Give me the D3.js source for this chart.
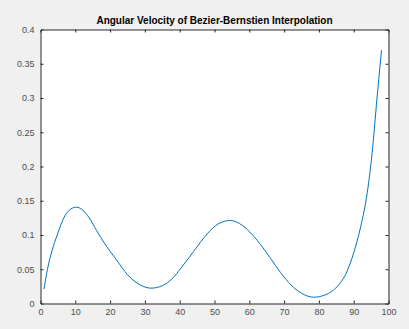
<!DOCTYPE html>
<html><head><meta charset="utf-8">
<script src="https://cdn.jsdelivr.net/npm/d3@7"></script>
<style>
html,body{margin:0;padding:0;background:#f0f0f0;}
svg{display:block;}
text{font-family:"Liberation Sans",Arial,sans-serif;}
</style></head>
<body>
<svg id="c" width="409" height="329"></svg>
<script>
const title = "Angular Velocity of Bezier-Bernstien Interpolation";
const xs = [1, 2, 3.3, 4.8, 7, 8.7, 10.3, 12, 14, 16.1, 18.5, 21.8, 25, 28.7, 31.8, 35, 38, 40.2, 44, 47.9, 51, 54.6, 58, 62.3, 66.1, 69, 72, 75, 78.5, 82, 85.3, 88, 90, 92, 93.9, 95.3, 96.7, 98];
const ys = [0.021, 0.05, 0.077, 0.1, 0.128, 0.138, 0.1406, 0.137, 0.125, 0.1066, 0.087, 0.064, 0.042, 0.027, 0.0224, 0.026, 0.037, 0.0506, 0.076, 0.1017, 0.116, 0.1212, 0.114, 0.092, 0.066, 0.045, 0.027, 0.015, 0.0092, 0.013, 0.025, 0.046, 0.074, 0.112, 0.162, 0.22, 0.30, 0.37];
const xTicks = [0,10,20,30,40,50,60,70,80,90,100];
const yTicks = [0,0.05,0.1,0.15,0.2,0.25,0.3,0.35,0.4];

const L = 40.5, R = 388.5, T = 29.5, B = 303.5;
const svg = d3.select("#c");
const x = d3.scaleLinear().domain([0,100]).range([L,R]);
const y = d3.scaleLinear().domain([0,0.4]).range([B,T]);

svg.append("rect").attr("x",L).attr("y",T).attr("width",R-L).attr("height",B-T).attr("fill","#fff");

const data = xs.map((d,i)=>[d, ys[i]]);
svg.append("path").datum(data)
  .attr("fill","none").attr("stroke","#0072bd").attr("stroke-width",1)
  .attr("d", d3.line().x(d=>x(d[0])).y(d=>y(d[1])).curve(d3.curveMonotoneX));

const axCol = "#262626", lblCol = "#4d4d4d";
const fmt = v => v===0 ? "0" : String(+v.toFixed(2));
const gB = svg.append("g").attr("transform",`translate(0,${B})`)
  .call(d3.axisBottom(x).tickValues(xTicks).tickSize(-3).tickPadding(5).tickFormat(d3.format("d")));
const gT = svg.append("g").attr("transform",`translate(0,${T})`)
  .call(d3.axisTop(x).tickValues(xTicks).tickSize(-3).tickFormat(""));
const gL = svg.append("g").attr("transform",`translate(${L},0)`)
  .call(d3.axisLeft(y).tickValues(yTicks).tickSize(-3).tickPadding(6).tickFormat(fmt));
const gR = svg.append("g").attr("transform",`translate(${R},0)`)
  .call(d3.axisRight(y).tickValues(yTicks).tickSize(-3).tickFormat(""));
[gB,gT,gL,gR].forEach(g=>{
  g.selectAll("path.domain").attr("stroke",axCol).attr("stroke-width",1);
  g.selectAll(".tick line").attr("stroke",axCol);
  g.selectAll(".tick text").attr("fill",lblCol).attr("font-size",9).attr("font-family","Liberation Sans, Arial, sans-serif");
});
gB.selectAll(".tick").filter(d=>d===100||d===0).select("line").remove();
gT.selectAll(".tick").filter(d=>d===100||d===0).select("line").remove();
gL.selectAll(".tick").filter(d=>d===0||d===0.4).select("line").remove();
gR.selectAll(".tick").filter(d=>d===0||d===0.4).select("line").remove();

svg.append("text").attr("x",(L+R)/2).attr("y",24).attr("text-anchor","middle")
  .attr("font-size",10).attr("font-weight","bold").attr("fill","#000").text(title);
</script>
</body></html>
